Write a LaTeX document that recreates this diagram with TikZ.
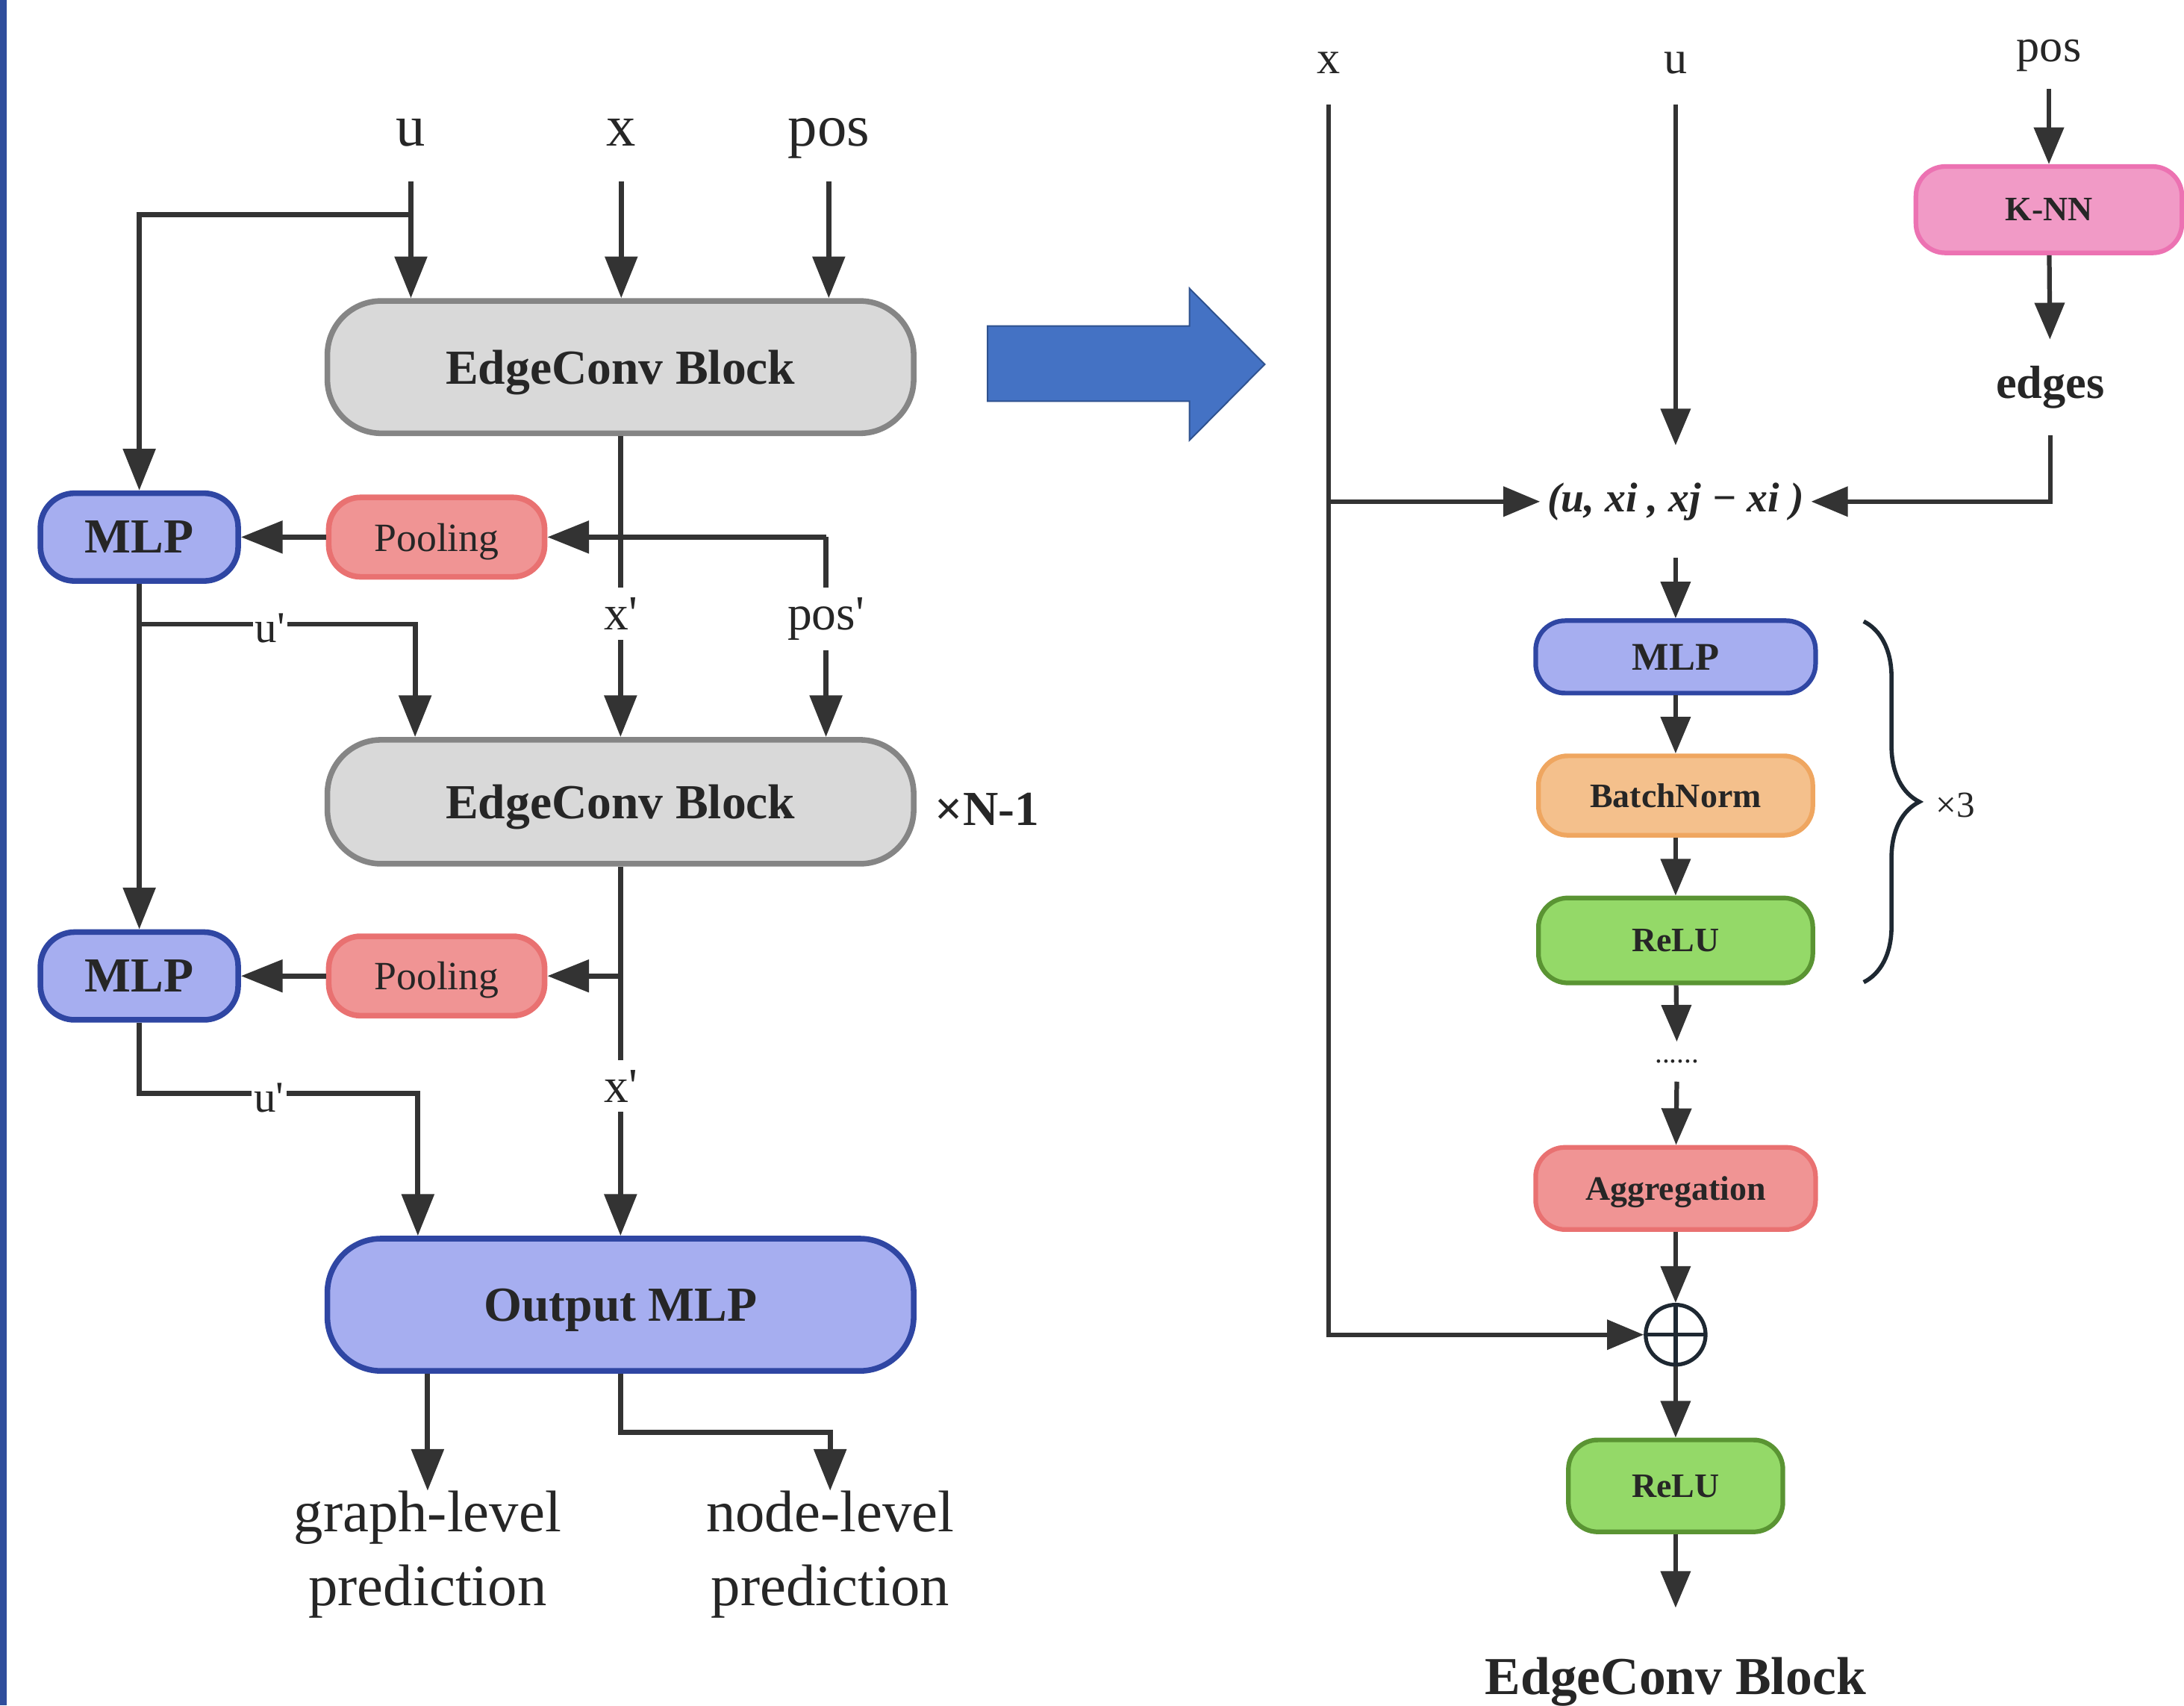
\documentclass[tikz,border=0pt]{standalone}
\usepackage{fontspec}
\setmainfont{Liberation Serif}
\usetikzlibrary{arrows.meta,calc,decorations.pathreplacing}
\definecolor{ln}{HTML}{333333}
\definecolor{txt}{HTML}{262626}
\definecolor{gfill}{HTML}{D9D9D9}
\definecolor{gdraw}{HTML}{858585}
\definecolor{bfill}{HTML}{A6AEF0}
\definecolor{bdraw}{HTML}{2F46A3}
\definecolor{pfill}{HTML}{F09494}
\definecolor{pdraw}{HTML}{E97171}
\definecolor{kfill}{HTML}{F19AC6}
\definecolor{kdraw}{HTML}{EC72B2}
\definecolor{ofill}{HTML}{F4C08C}
\definecolor{odraw}{HTML}{EFA660}
\definecolor{rfill}{HTML}{94D968}
\definecolor{rdraw}{HTML}{5A9433}
\definecolor{bigarrow}{HTML}{4472C4}
\definecolor{bigarrowdraw}{HTML}{2F528F}
\definecolor{barblue}{HTML}{2F4E9C}
\definecolor{brc}{HTML}{1E2832}
\newcommand{\fsz}[2]{\fontsize{#1}{#2}\selectfont}
\begin{document}
\begin{tikzpicture}[x=0.02cm,y=-0.02cm,
  bigbox/.style={rounded corners=22pt, align=center, text=txt, inner sep=0pt,
    line width=2.3pt, minimum width=8.42cm, text depth=0pt, font=\bfseries\fsz{20}{24}},
  graybox/.style={bigbox, fill=gfill, draw=gdraw},
  outbox/.style={bigbox, fill=bfill, draw=bdraw},
  mlpbox/.style={fill=bfill, draw=bdraw, line width=2.3pt, rounded corners=14pt,
    minimum width=2.84cm, minimum height=1.26cm, inner sep=0pt, text=txt,
    font=\bfseries\fsz{20}{24}},
  poolbox/.style={fill=pfill, draw=pdraw, line width=2.3pt, rounded corners=13pt,
    minimum width=3.1cm, minimum height=1.14cm, inner sep=0pt, text=txt,
    text depth=0pt, font=\fsz{16.4}{20}},
  rbox/.style={line width=1.9pt, rounded corners=12pt, inner sep=0pt, text=txt,
    text depth=0pt, font=\bfseries\fsz{14}{17}},
  line/.style={draw=ln, line width=2.1pt},
  conn/.style={draw=ln, line width=2.1pt, -{Triangle[length=17pt,width=13pt]}},
  conn2/.style={draw=ln, line width=1.9pt, -{Triangle[length=15pt,width=12pt]}},
  lab/.style={fill=white, inner xsep=1pt, inner ysep=4pt, text=txt},
]
\useasboundingbox (0,0) rectangle (1568,1224);
\fill[white] (0,0) rectangle (1568,1224);
\fill[barblue] (0,0) rectangle (5,1224);

% ---------------- left diagram ----------------
\node[anchor=base, font=\fsz{24}{28}, text=txt] (u) at (295,105) {u};
\node[anchor=base, font=\fsz{24}{28}, text=txt] (x) at (446,105) {x};
\node[anchor=base, font=\fsz{24}{28}, text=txt] (pos) at (595,105) {pos};
\coordinate (ut) at (295,130);
\coordinate (xt) at (446,130);
\coordinate (post) at (595,130);
\coordinate (ub) at (295,154);

\node[graybox, minimum height=1.9cm] (ec1) at (445.5,263.5) {EdgeConv Block};
\node[mlpbox] (mlp1) at (100,385.5) {MLP};
\node[poolbox] (pool1) at (313.5,385.5) {Pooling};
\node[graybox, minimum height=1.78cm] (ec2) at (445.5,575.5) {EdgeConv Block};
\node[font=\bfseries\fsz{20}{24}, text=txt, anchor=west, inner sep=0pt] (rep) at (671,581) {×N-1};
\node[mlpbox] (mlp2) at (100,700.5) {MLP};
\node[poolbox] (pool2) at (313.5,700.5) {Pooling};
\node[outbox, minimum height=1.9cm] (out) at (445.5,936.5) {Output MLP};
\node[anchor=north, align=center, font=\fsz{24}{30}, text=txt, inner sep=0pt] (gl) at (307,1070) {graph-level\\prediction};
\node[anchor=north, align=center, font=\fsz{24}{30}, text=txt, inner sep=0pt] (nl) at (596,1070) {node-level\\prediction};

\coordinate (pj) at (593,385.5);

\draw[conn] (ut) -- (ut |- ec1.north);
\draw[conn] (xt) -- (xt |- ec1.north);
\draw[conn] (post) -- (post |- ec1.north);
\draw[conn] (ub) -| (mlp1);
\draw[conn] (pool1) -- (mlp1);
\draw[conn] (ec1) -- (ec2);
\draw[conn] (pj) -- (pj |- ec2.north);
\draw[conn] (pj) -- (pool1);
\draw[conn] (mlp1) -- (mlp2);
\draw[conn] ([yshift=-0.58cm]mlp1.south) -| ([xshift=1.3cm]ec2.north west);
\draw[conn] (pool2) -- (mlp2);
\draw[conn] (ec2.south |- pool2) -- (pool2);
\draw[conn] (ec2) -- (out);
\draw[conn] (mlp2.south) -- ++(0,51) -| ([xshift=1.34cm]out.north west);
\draw[conn] (out.south -| gl.north) -- (gl.north);
\draw[conn] (out.south) -- ++(0,42) -| (nl.north);

\node[lab, anchor=base, font=\fsz{20}{24}] (xp1) at (446,452) {x\textquotesingle};
\node[lab, anchor=base, font=\fsz{20}{24}] (posp1) at (593,452) {pos\textquotesingle};
\node[lab, anchor=base, font=\fsz{18}{22}, inner ysep=1pt] (up1) at (194,461) {u\textquotesingle};
\node[lab, anchor=base, font=\fsz{20}{24}] (xp2) at (446,791) {x\textquotesingle};
\node[lab, anchor=base, font=\fsz{18}{22}, inner ysep=1pt] (up2) at (193,798) {u\textquotesingle};

% big arrow
\filldraw[fill=bigarrow, draw=bigarrowdraw, line width=0.6pt]
  (709,234) -- (854,234) -- (854,207) -- (908,261.5) -- (854,316) -- (854,288) -- (709,288) -- cycle;

% ---------------- right diagram ----------------
\node[anchor=base, font=\fsz{19}{22}, text=txt] (rx) at (954,53) {x};
\node[anchor=base, font=\fsz{19}{22}, text=txt] (ru) at (1203,53) {u};
\node[anchor=base, font=\fsz{19}{22}, text=txt] (rpos) at (1471,44) {pos};
\coordinate (rxt) at (954,75);
\coordinate (rut) at (1203,75);
\coordinate (rpost) at (1471,64);

\node[rbox, fill=kfill, draw=kdraw, minimum width=3.82cm, minimum height=1.24cm] (knn) at (1471,150.5) {K-NN};
\node[font=\bfseries\fsz{19}{22}, text=txt, minimum height=1.36cm, inner sep=0pt] (edges) at (1472,278) {edges};
\node[font=\bfseries\itshape\fsz{17}{20}, text=txt, minimum width=3.88cm, minimum height=1.6cm, inner sep=0pt] (form) at (1203,360) {(u, xi , xj − xi )};
\node[rbox, fill=bfill, draw=bdraw, minimum width=4.02cm, minimum height=1.04cm, font=\bfseries\fsz{16}{19}] (rmlp) at (1203,471.5) {MLP};
\node[rbox, fill=ofill, draw=odraw, minimum width=3.94cm, minimum height=1.14cm] (bn) at (1203,571) {BatchNorm};
\node[rbox, fill=rfill, draw=rdraw, minimum width=3.94cm, minimum height=1.22cm] (relu) at (1203,675) {ReLU};
\node[font=\fsz{12}{14}, text=txt, minimum height=0.56cm, inner sep=0pt] (dots) at (1204,762) {......};
\node[rbox, fill=pfill, draw=pdraw, minimum width=4.02cm, minimum height=1.18cm] (agg) at (1203,853) {Aggregation};
\node[circle, draw=brc, line width=1.6pt, minimum size=0.86cm, inner sep=0pt,
  path picture={\draw[brc, line width=1.6pt] (path picture bounding box.north) -- (path picture bounding box.south)
    (path picture bounding box.west) -- (path picture bounding box.east);}] (cplus) at (1203,958) {};
\node[rbox, fill=rfill, draw=rdraw, minimum width=3.08cm, minimum height=1.32cm] (relu2) at (1203,1066.5) {ReLU};
\coordinate (endc) at (1203,1154);
\node[anchor=base, font=\bfseries\fsz{21.8}{26}, text=txt, inner sep=0pt] (title) at (1203,1216) {EdgeConv Block};

\draw[conn2] (rxt) |- (cplus);
\draw[conn2] (rxt |- form) -- (form);
\draw[conn2] (rut) -- (form);
\draw[conn2] (rpost) -- (knn);
\draw[conn2] (knn) -- (edges);
\draw[conn2] (edges) |- (form);
\draw[conn2] (form) -- (rmlp);
\draw[conn2] (rmlp) -- (bn);
\draw[conn2] (bn) -- (relu);
\draw[conn2] (relu) -- (dots);
\draw[conn2] (dots) -- (agg);
\draw[conn2] (agg) -- (cplus);
\draw[conn2] (cplus) -- (relu2);
\draw[conn2] (relu2) -- (endc);

\draw[brc, line width=1.7pt, decorate, decoration={brace, amplitude=0.8cm}] (1338,446) -- (1338,705);
\node[font=\fsz{15}{18}, text=txt] (x3) at (1404,578) {×3};
\end{tikzpicture}
\end{document}
